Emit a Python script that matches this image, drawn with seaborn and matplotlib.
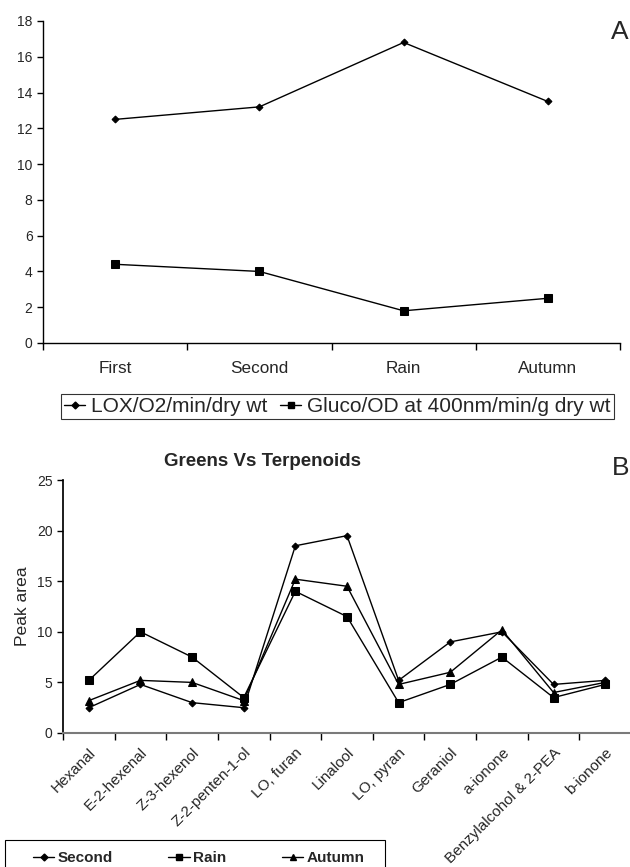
import matplotlib
matplotlib.use("Agg")
import matplotlib.pyplot as plt
from matplotlib.lines import Line2D
from matplotlib.patches import Rectangle
from matplotlib.transforms import ScaledTranslation
import seaborn as sns
import pandas as pd
import numpy as np

# ---------------- data ----------------
seasons = ["First", "Second", "Rain", "Autumn"]
lox = [12.5, 13.2, 16.8, 13.5]
gluco = [4.4, 4.0, 1.8, 2.5]
series_a = ["LOX/O2/min/dry wt", "Gluco/OD at 400nm/min/g dry wt"]

compounds = ["Hexanal", "E-2-hexenal", "Z-3-hexenol", "Z-2-penten-1-ol", "LO, furan",
             "Linalool", "LO, pyran", "Geraniol", "a-ionone", "Benzylalcohol & 2-PEA", "b-ionone"]
second = [2.5, 4.8, 3.0, 2.5, 18.5, 19.5, 5.2, 9.0, 10.0, 4.8, 5.2]
rain = [5.2, 10.0, 7.5, 3.5, 14.0, 11.5, 3.0, 4.8, 7.5, 3.5, 4.8]
autumn = [3.2, 5.2, 5.0, 3.2, 15.2, 14.5, 4.8, 6.0, 10.2, 4.0, 5.0]
series_b = ["Second", "Rain", "Autumn"]

sns.set_theme(style="white")
plt.rcParams['font.family'] = ['Liberation Sans', 'DejaVu Sans']

fig = plt.figure(figsize=(6.3, 8.67), dpi=100)

# ---------------- panel A ----------------
dfa = pd.DataFrame({
    "season": seasons * 2,
    "value": lox + gluco,
    "series": [series_a[0]] * 4 + [series_a[1]] * 4,
})
axA = fig.add_axes([43/630, 1-343/867, (620-43)/630, (343-21)/867])
sns.lineplot(data=dfa, x="season", y="value", hue="series", style="series",
             markers=["D", "s"], dashes=False, palette=["black", "black"],
             sort=False, ax=axA, legend=False, linewidth=1.0,
             markeredgecolor="black")
for ln, ms in zip(axA.lines, [3.5, 5.5]):
    ln.set_markersize(ms)
axA.set_xlim(-0.5, len(seasons) - 0.5)
axA.set_ylim(0, 18)
axA.set_yticks(np.arange(0, 19, 2))
axA.set_xticks(range(len(seasons)))
axA.set_xticklabels(seasons, fontsize=12.3)
axA.set_xticks(np.arange(-0.5, len(seasons)), minor=True)
axA.tick_params(axis="x", which="major", length=0, pad=13)
axA.tick_params(axis="x", which="minor", length=5, width=1, color="black", direction="out", bottom=True)
axA.tick_params(axis="y", length=4, width=1, color="black", direction="out", left=True, labelsize=10)
axA.set_xlabel("")
axA.set_ylabel("")
for s in ["top", "right"]:
    axA.spines[s].set_visible(False)
for s in ["left", "bottom"]:
    axA.spines[s].set_color("black")
    axA.spines[s].set_linewidth(1.0)

hA = [Line2D([], [], color="black", marker="D", markersize=3.5, lw=1.0),
      Line2D([], [], color="black", marker="s", markersize=4.5, lw=1.0)]
legA = fig.legend(hA, series_a, loc="upper left", bbox_to_anchor=(61/630, 1-394/867),
                  ncol=2, frameon=True, fancybox=False, fontsize=15, handlelength=1.0,
                  handletextpad=0.3, columnspacing=0.6, borderpad=0.15, borderaxespad=0)
legA.get_frame().set_edgecolor("black")
legA.get_frame().set_linewidth(0.8)

fig.text(629/630, 1-32/867, "A", fontsize=19, ha="right", va="center")

# ---------------- panel B ----------------
dfb = pd.DataFrame({
    "compound": compounds * 3,
    "value": second + rain + autumn,
    "series": [series_b[0]] * 11 + [series_b[1]] * 11 + [series_b[2]] * 11,
})
axB = fig.add_axes([63/630, 1-733/867, (631-63)/630, (733-480)/867])
sns.lineplot(data=dfb, x="compound", y="value", hue="series", style="series",
             markers=["D", "s", "^"], dashes=False, palette=["black"] * 3,
             sort=False, ax=axB, legend=False, linewidth=1.0,
             markeredgecolor="black")
for ln, ms in zip(axB.lines, [3.5, 5.5, 5.5]):
    ln.set_markersize(ms)
axB.set_xlim(-0.5, len(compounds) - 0.5)
axB.set_ylim(0, 25)
axB.set_yticks(np.arange(0, 26, 5))
axB.set_xticks(range(len(compounds)))
axB.set_xticklabels(compounds, rotation=45, ha="right", rotation_mode="anchor", fontsize=11)
shift = ScaledTranslation(-5/100, 0, fig.dpi_scale_trans)
for lab in axB.get_xticklabels():
    lab.set_transform(lab.get_transform() + shift)
axB.set_xticks(np.arange(-0.5, len(compounds)), minor=True)
axB.tick_params(axis="x", which="major", length=0, pad=9)
axB.tick_params(axis="x", which="minor", length=5, width=1, color="black", direction="out", bottom=True)
axB.tick_params(axis="y", length=4, width=1, color="black", direction="out", left=True, labelsize=10)
axB.set_xlabel("")
axB.set_ylabel("Peak area", fontsize=12.6, labelpad=5)
for s in ["top", "right"]:
    axB.spines[s].set_visible(False)
axB.spines["left"].set_color("black")
axB.spines["bottom"].set_color("#7a7a7a")
axB.spines["bottom"].set_linewidth(1.5)

fig.text(263/630, 1-461/867, "Greens Vs Terpenoids", fontsize=13.5, fontweight="bold",
         ha="center", va="center")
fig.text(629/630, 1-468/867, "B", fontsize=19, ha="right", va="center")

# legend box for panel B (cut by the figure's lower edge, as in the original)
fig.patches.append(Rectangle((5/630, -0.02), (385-5)/630, 0.02 + 1-840/867,
                             transform=fig.transFigure, fill=False, edgecolor="black",
                             linewidth=0.8, zorder=1))
hB = [Line2D([], [], color="black", marker="D", markersize=3.5, lw=1.0),
      Line2D([], [], color="black", marker="s", markersize=5, lw=1.0),
      Line2D([], [], color="black", marker="^", markersize=5, lw=1.0)]
legB = fig.legend(hB, series_b, loc="center left", bbox_to_anchor=(33/630, 1-858/867),
                  ncol=3, frameon=False, handlelength=1.4,
                  handletextpad=0.2, columnspacing=3.65, borderpad=0, borderaxespad=0,
                  prop={"family": "Liberation Sans", "weight": "bold", "size": 11})

fig.savefig("out.png", dpi=100, facecolor="white")
